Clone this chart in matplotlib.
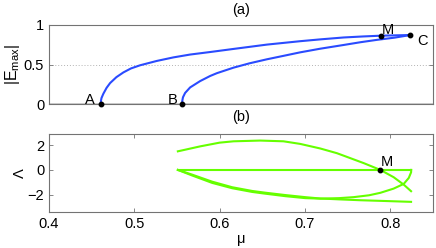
import matplotlib
matplotlib.use("Agg")
import matplotlib.pyplot as plt

plt.rcParams['font.family'] = ['Liberation Sans', 'DejaVu Sans']
plt.rcParams['mathtext.fontset'] = 'custom'
plt.rcParams['mathtext.rm'] = 'Liberation Sans'
plt.rcParams['font.size'] = 10.5

# ------------------------
# data
# ------------------------
# (a) upper branch A -> M -> C
mu_up = [0.4607, 0.4609, 0.4615, 0.4637, 0.4675, 0.4716, 0.4790, 0.4872, 0.4960,
         0.5067, 0.5263, 0.5458, 0.5654, 0.5889, 0.6162, 0.6554, 0.6944, 0.7179,
         0.7452, 0.7680, 0.7894, 0.8060, 0.8235]
E_up = [0.0, 0.04, 0.075, 0.13, 0.205, 0.265, 0.34, 0.40, 0.45,
        0.49, 0.545, 0.59, 0.626, 0.658, 0.697, 0.752, 0.795, 0.818,
        0.842, 0.855, 0.865, 0.869, 0.873]
# (a) lower branch B -> C
mu_lo = [0.5560, 0.5562, 0.5570, 0.5595, 0.5654, 0.5771, 0.5889, 0.5967, 0.6162,
         0.6350, 0.6554, 0.6750, 0.6944, 0.7179, 0.7452, 0.7650, 0.7843, 0.8050, 0.8235]
E_lo = [0.0, 0.04, 0.085, 0.14, 0.21, 0.29, 0.355, 0.39, 0.46,
        0.515, 0.566, 0.61, 0.654, 0.70, 0.747, 0.782, 0.812, 0.84, 0.873]

# labelled points
pt_names = ["A", "B", "M", "C"]
pt_mu = [0.4607, 0.5560, 0.7894, 0.8235]
pt_E = [0.0, 0.0, 0.865, 0.873]

# (b) eigenvalues
mu_zero = [0.551, 0.8243]
lam_zero = [0.0, 0.0]

mu_r = [0.551, 0.5771, 0.5998, 0.6162, 0.6475, 0.6748, 0.6944, 0.7179, 0.7374,
        0.7492, 0.7687, 0.7883, 0.8039, 0.8157, 0.8243]
lam_r = [1.5, 1.9, 2.2, 2.31, 2.37, 2.31, 2.1, 1.73, 1.35,
         1.05, 0.55, 0.0, -0.59, -1.19, -1.72]

mu_p = [0.551, 0.5677, 0.5912, 0.6147, 0.6381, 0.6534, 0.6768, 0.7003, 0.7179,
        0.7400, 0.7570, 0.7750, 0.7883, 0.8039, 0.8157, 0.8216, 0.8243, 0.8245]
lam_p = [0.0, -0.45, -1.05, -1.48, -1.78, -1.92, -2.12, -2.28, -2.32,
         -2.28, -2.2, -2.05, -1.85, -1.51, -1.13, -0.65, -0.2, 0.0]

mu_q = [0.551, 0.5677, 0.5912, 0.6147, 0.6381, 0.6534, 0.6768, 0.7003, 0.7179,
        0.7400, 0.7649, 0.7883, 0.8243]
lam_q = [0.0, -0.38, -0.95, -1.4, -1.7, -1.84, -2.03, -2.2, -2.31,
         -2.38, -2.45, -2.5, -2.58]

M_mu, M_lam = 0.7883, 0.0

blue = "#2a4bff"
green = "#66ff00"
spine_col = "0.45"

fig = plt.figure(figsize=(4.36, 2.48), dpi=100)
ax1 = fig.add_axes([49/436, 1-104/248, 384/436, 79/248])
ax2 = fig.add_axes([49/436, 1-212/248, 384/436, 78/248])

# ------------------------
# panel (a)
# ------------------------
ax1.axhline(0.5, color="0.7", lw=0.7, ls=(0, (1, 2)), zorder=0)
ax1.axhline(0.0, color="k", lw=1.0, zorder=1)
ax1.plot(mu_up, E_up, color=blue, lw=1.5)
ax1.plot(mu_lo, E_lo, color=blue, lw=1.5)
ax1.plot(pt_mu, pt_E, "o", color="k", ms=3.2, zorder=5, clip_on=False)
offsets = {"A": (-8, 3), "B": (-7, 3), "M": (5, 4), "C": (9, -4)}
for n, m, e in zip(pt_names, pt_mu, pt_E):
    dx, dy = offsets[n]
    ax1.annotate(n, (m, e), xytext=(dx, dy), textcoords="offset points",
                 ha="center", va="center", fontsize=10.5)
ax1.set_xlim(0.4, 0.85)
ax1.set_ylim(0, 1)
ax1.set_yticks([0, 0.5, 1])
ax1.set_yticklabels(["0", "0.5", "1"])
ax1.set_xticks([])
ax1.set_ylabel(r"|E$_{\rm max}$|", va="center", fontsize=11.5)
ax1.yaxis.set_label_coords(-0.095, 0.5)

# ------------------------
# panel (b)
# ------------------------
ax2.plot(mu_zero, lam_zero, color=green, lw=1.5)
ax2.plot(mu_r, lam_r, color=green, lw=1.5)
ax2.plot(mu_p, lam_p, color=green, lw=1.5)
ax2.plot(mu_q, lam_q, color=green, lw=1.5)
ax2.plot([M_mu], [M_lam], "o", color="k", ms=3.2, zorder=5)
ax2.annotate("M", (M_mu, M_lam), xytext=(5, 6), textcoords="offset points",
             ha="center", va="center", fontsize=10.5)
ax2.set_xlim(0.4, 0.85)
ax2.set_ylim(-3.4, 2.9)
ax2.set_yticks([-2, 0, 2])
ax2.set_yticklabels(["\u22122", "0", "2"])
ax2.set_xticks([0.4, 0.5, 0.6, 0.7, 0.8])
ax2.set_xticklabels(["0.4", "0.5", "0.6", "0.7", "0.8"])
ax2.set_ylabel("\u039b", va="center")
ax2.yaxis.set_label_coords(-0.0755, 0.5)
ax2.set_xlabel("\u03bc", labelpad=1)

for ax in (ax1, ax2):
    for s in ax.spines.values():
        s.set_color(spine_col)
        s.set_linewidth(0.8)
    ax.tick_params(direction="in", length=3, width=0.6, color=spine_col,
                   right=True, top=True, labelsize=10.5)

fig.text(241/436, 1-10/248, "(a)", ha="center", va="center", fontsize=10.5)
fig.text(241/436, 1-117/248, "(b)", ha="center", va="center", fontsize=10.5)

fig.savefig("out.png", dpi=100)
